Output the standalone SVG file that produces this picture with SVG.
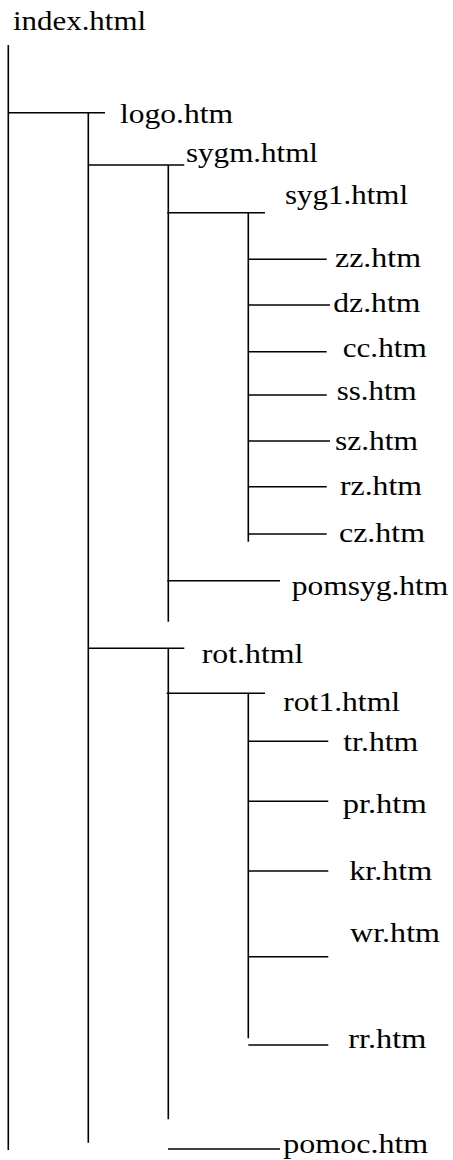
<svg xmlns="http://www.w3.org/2000/svg" width="453" height="1160" viewBox="0 0 453 1160">
<style>
.c line{stroke:#000;stroke-width:1.6;fill:none}
.t{font-family:"Liberation Serif";font-size:27px;fill:#000}
</style>
<rect width="453" height="1160" fill="#fff"/>
<g id="connectors" class="c">
<line x1="8.3" y1="45" x2="8.3" y2="1150"/>
<line x1="8" y1="112.7" x2="105" y2="112.7"/>
<line x1="88.3" y1="112.7" x2="88.3" y2="1142.7"/>
<line x1="88" y1="165" x2="184.3" y2="165"/>
<line x1="168.3" y1="165" x2="168.3" y2="621.7"/>
<line x1="167.3" y1="212.7" x2="265" y2="212.7"/>
<line x1="248.3" y1="212.7" x2="248.3" y2="541.7"/>
<line x1="248.3" y1="259.3" x2="326.7" y2="259.3"/>
<line x1="248.3" y1="305" x2="330" y2="305"/>
<line x1="248.3" y1="351.7" x2="326.7" y2="351.7"/>
<line x1="248.3" y1="395" x2="326.7" y2="395"/>
<line x1="248.3" y1="441" x2="330" y2="441"/>
<line x1="248.3" y1="486.7" x2="326.7" y2="486.7"/>
<line x1="248.3" y1="534" x2="326.7" y2="534"/>
<line x1="167.3" y1="580.7" x2="280" y2="580.7"/>
<line x1="88" y1="648.3" x2="184.3" y2="648.3"/>
<line x1="168.3" y1="648.3" x2="168.3" y2="1119.3"/>
<line x1="166.7" y1="693.3" x2="265" y2="693.3"/>
<line x1="248.3" y1="693.3" x2="248.3" y2="1038.3"/>
<line x1="248.3" y1="741.3" x2="328.3" y2="741.3"/>
<line x1="248.3" y1="801.3" x2="328.3" y2="801.3"/>
<line x1="248.3" y1="871" x2="328.3" y2="871"/>
<line x1="248.3" y1="956.7" x2="328.3" y2="956.7"/>
<line x1="248.3" y1="1045" x2="328.3" y2="1045"/>
<line x1="168" y1="1149" x2="280" y2="1149"/>
</g>
<g id="index"><text class="t" x="13" y="30" textLength="133" lengthAdjust="spacingAndGlyphs">index.html</text></g>
<g id="logo"><text class="t" x="120" y="122.5" textLength="113" lengthAdjust="spacingAndGlyphs">logo.htm</text></g>
<g id="sygm"><text class="t" x="186" y="161.5" textLength="132" lengthAdjust="spacingAndGlyphs">sygm.html</text></g>
<g id="syg1"><text class="t" x="285" y="203.5" textLength="123" lengthAdjust="spacingAndGlyphs">syg1.html</text></g>
<g id="zz"><text class="t" x="335" y="266.5" textLength="86" lengthAdjust="spacingAndGlyphs">zz.htm</text></g>
<g id="dz"><text class="t" x="333.3" y="311.7" textLength="87" lengthAdjust="spacingAndGlyphs">dz.htm</text></g>
<g id="cc"><text class="t" x="342.7" y="356.7" textLength="84" lengthAdjust="spacingAndGlyphs">cc.htm</text></g>
<g id="ss"><text class="t" x="336.7" y="400" textLength="80" lengthAdjust="spacingAndGlyphs">ss.htm</text></g>
<g id="sz"><text class="t" x="335" y="450" textLength="83" lengthAdjust="spacingAndGlyphs">sz.htm</text></g>
<g id="rz"><text class="t" x="340" y="495" textLength="82" lengthAdjust="spacingAndGlyphs">rz.htm</text></g>
<g id="cz"><text class="t" x="339" y="541.7" textLength="86" lengthAdjust="spacingAndGlyphs">cz.htm</text></g>
<g id="pomsyg"><text class="t" x="291.7" y="595" textLength="156.7" lengthAdjust="spacingAndGlyphs">pomsyg.htm</text></g>
<g id="rot"><text class="t" x="201.7" y="663.3" textLength="101.7" lengthAdjust="spacingAndGlyphs">rot.html</text></g>
<g id="rot1"><text class="t" x="283.3" y="710.7" textLength="116.7" lengthAdjust="spacingAndGlyphs">rot1.html</text></g>
<g id="tr"><text class="t" x="343.3" y="750.7" textLength="75" lengthAdjust="spacingAndGlyphs">tr.htm</text></g>
<g id="pr"><text class="t" x="342.7" y="813.3" textLength="84" lengthAdjust="spacingAndGlyphs">pr.htm</text></g>
<g id="kr"><text class="t" x="349.3" y="880" textLength="83" lengthAdjust="spacingAndGlyphs">kr.htm</text></g>
<g id="wr"><text class="t" x="350" y="941.7" textLength="90" lengthAdjust="spacingAndGlyphs">wr.htm</text></g>
<g id="rr"><text class="t" x="348.3" y="1048.3" textLength="78" lengthAdjust="spacingAndGlyphs">rr.htm</text></g>
<g id="pomoc"><text class="t" x="283.3" y="1153.3" textLength="145" lengthAdjust="spacingAndGlyphs">pomoc.htm</text></g>
</svg>
